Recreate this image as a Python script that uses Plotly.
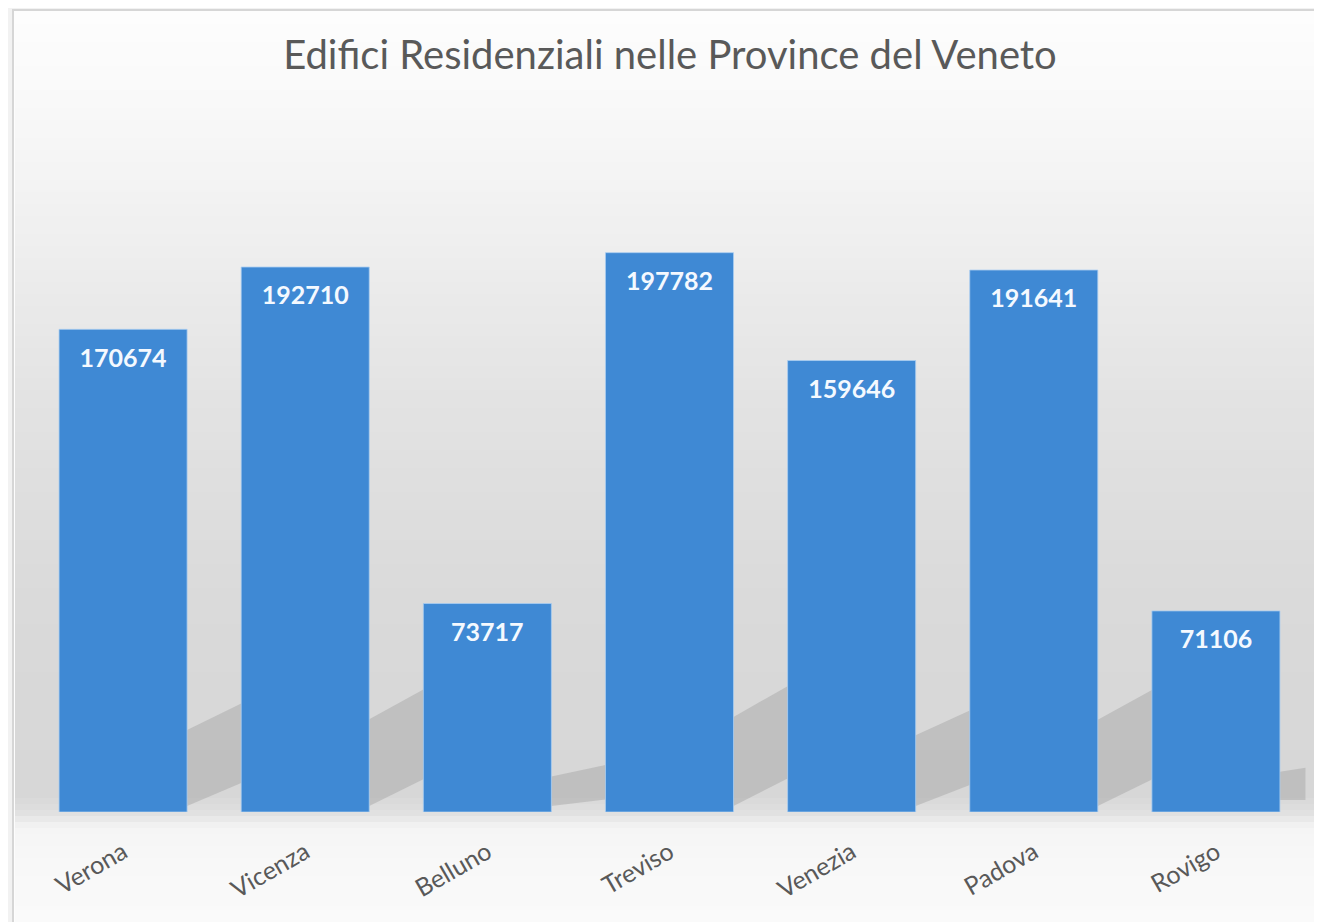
import plotly.graph_objects as go

provinces = ["Verona", "Vicenza", "Belluno", "Treviso", "Venezia", "Padova", "Rovigo"]
buildings = [170674, 192710, 73717, 197782, 159646, 191641, 71106]
title_text = "Edifici Residenziali nelle Province del Veneto"

OFF = 8  # default page body margin
W, H = 1322 - OFF, 922 - OFF

def py(px):
    return 1 - (px - OFF) / H

def px_x(px):
    return (px - OFF) / W

BARGAP = 0.297
HALF = (1 - BARGAP) / 2
BASE, TOP = 812, 105
YMAX = 250000

# background gradient stops (pixel y, gray level)
stops = [(10, 253), (100, 249), (200, 242), (300, 234), (400, 227), (500, 222),
         (600, 218), (700, 216), (795, 215), (812, 224), (828, 245), (880, 249), (930, 250)]

def gray_at(y):
    for (y0, g0), (y1, g1) in zip(stops[:-1], stops[1:]):
        if y0 <= y <= y1:
            t = (y - y0) / (y1 - y0) if y1 > y0 else 0
            return g0 + (g1 - g0) * t
    return stops[-1][1]

shapes = []
shapes.append(dict(type="rect", xref="paper", yref="paper",
                   x0=px_x(13), x1=px_x(1340), y0=py(940), y1=py(10),
                   fillcolor="#fdfdfd", line=dict(color="#d6d6d6", width=2), layer="below"))
step = 6
y = 12
while y < 930:
    g = int(round(gray_at(y + step / 2)))
    shapes.append(dict(type="rect", xref="paper", yref="paper",
                       x0=px_x(15), x1=px_x(1335), y0=py(y + step), y1=py(y),
                       fillcolor=f"rgb({g},{g},{g})", line=dict(width=0), layer="below"))
    y += step

# soft shadows behind the bars (decoration, scaled with each bar)
shadow_col = "rgba(130,130,130,0.28)"
for i, v in enumerate(buildings):
    hpx = v / YMAX * (BASE - TOP)
    xa = i + HALF
    if i < len(buildings) - 1:
        xb = i + 1 - HALF
        path = (f"M {xa},{py(BASE - 6)} L {xa},{py(BASE - 0.17 * hpx)} "
                f"L {xb},{py(BASE - 0.225 * hpx)} L {xb},{py(BASE - 0.06 * hpx)} Z")
    else:
        xb = xa + 0.14
        path = (f"M {xa},{py(BASE - 12)} L {xa},{py(BASE - 0.2 * hpx)} "
                f"L {xb},{py(BASE - 0.22 * hpx)} L {xb},{py(BASE - 12)} Z")
    shapes.append(dict(type="path", xref="x", yref="paper", path=path,
                       fillcolor=shadow_col, line=dict(width=0), layer="below"))

fig = go.Figure()
fig.add_trace(go.Bar(
    x=provinces, y=buildings,
    marker=dict(color="#3f89d4", line=dict(color="rgba(170,205,240,0.8)", width=1)),
    hoverinfo="x+y",
))
fig.add_trace(go.Scatter(
    x=provinces, y=buildings, mode="markers+text",
    text=[str(v) for v in buildings],
    textposition="bottom center",
    marker=dict(size=28, color="rgba(0,0,0,0)"),
    textfont=dict(family="Lato", size=25, color="#f4f9ff", weight="bold"),
    hoverinfo="skip", showlegend=False, cliponaxis=False,
))

fig.update_layout(
    width=W, height=H,
    margin=dict(l=0, r=0, t=0, b=0),
    paper_bgcolor="#f2f2f2",
    plot_bgcolor="rgba(0,0,0,0)",
    showlegend=False,
    bargap=BARGAP,
    shapes=shapes,
    title=dict(text=title_text, x=px_x(670), xanchor="center", y=py(55), yanchor="middle",
               font=dict(family="Lato", size=40, color="#595959")),
    xaxis=dict(domain=[px_x(32), px_x(1307)], showgrid=False, showline=False, zeroline=False,
               tickangle=-30, ticks="", ticklabelstandoff=20, automargin=False,
               tickfont=dict(family="Lato", size=25, color="#595959")),
    yaxis=dict(domain=[py(BASE), py(TOP)], range=[0, YMAX], visible=False, automargin=False),
)

fig.write_html("out.html")
